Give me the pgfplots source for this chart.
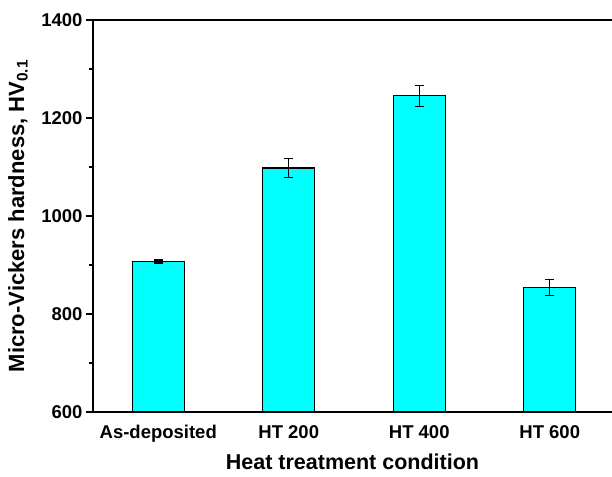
\documentclass[border=0pt]{standalone}
\usepackage{fontspec}
\setmainfont{Liberation Sans}
\usepackage{pgfplots}
\pgfplotsset{compat=1.18}
\definecolor{barcyan}{RGB}{0,255,255}
\begin{document}
\begin{tikzpicture}
\begin{axis}[
  width=519pt, height=392pt, scale only axis,
  xmin=-0.5, xmax=3.477, ymin=600, ymax=1400,
  axis x line*=box, axis y line*=left,
  axis line style={line width=1.4pt,-},
  ytick={600,800,1000,1200,1400},
  minor ytick={700,900,1100,1300},
  xtick={0,1,2,3},
  xticklabels={As-deposited,HT 200,HT 400,HT 600},
  x tick style={draw=none},
  y tick style={line width=1.2pt, black},
  major tick length=7pt, minor tick length=4pt,
  tick align=outside,
  /pgf/number format/assume math mode=true,
  /pgf/number format/1000 sep={},
  ticklabel style={font=\fontsize{18.5}{20}\selectfont\bfseries},
  xticklabel style={anchor=base, yshift=-20pt},
  xlabel={Heat treatment condition},
  ylabel={Micro-Vickers hardness, HV\textsubscript{0.1}},
  label style={font=\fontsize{21.5}{24}\selectfont\bfseries},
  xlabel style={at={(axis description cs:0.5,0)}, anchor=base, yshift=-58pt},
  ylabel style={at={(axis description cs:-0.1445,0.5)}, anchor=center, font=\fontsize{22}{24}\selectfont\bfseries},
]
\addplot[ybar, bar width=52pt, fill=barcyan, draw=black, line width=1.1pt,
  error bars/.cd, y dir=both, y explicit,
  error bar style={line width=1.2pt, black},
  error mark options={rotate=90, mark size=4.3pt, line width=1.2pt, black}]
  coordinates {
    (0,907)  +- (0,3)
    (1,1098) +- (0,19)
    (2,1245) +- (0,22)
    (3,854)  +- (0,17)
  };
\end{axis}
\pgfresetboundingbox
\useasboundingbox ([xshift=-93pt,yshift=-65pt]current axis.south west) rectangle ([yshift=20pt]current axis.north east);
\end{tikzpicture}
\end{document}
